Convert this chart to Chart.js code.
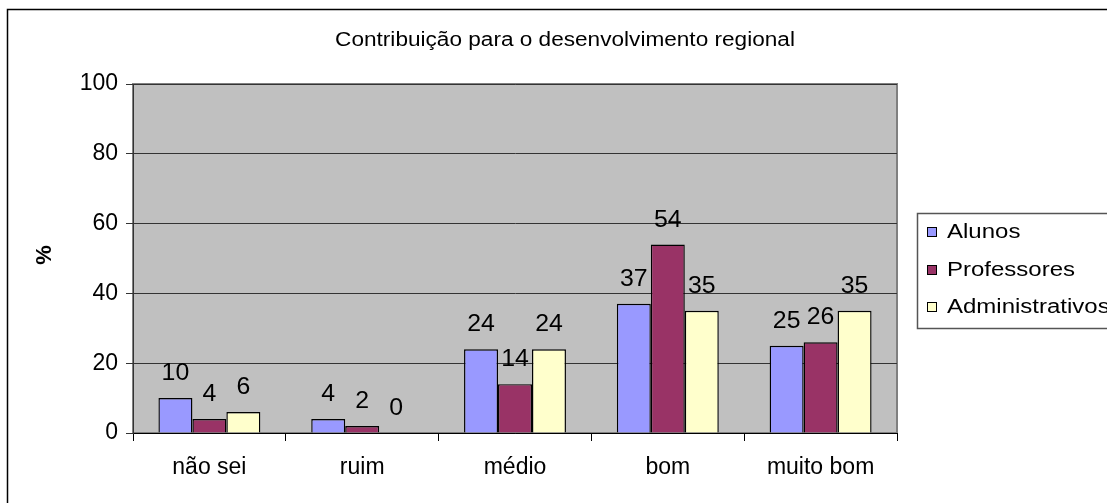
<!DOCTYPE html>
<html>
<head>
<meta charset="utf-8">
<script src="https://cdn.jsdelivr.net/npm/chart.js@4.4.1/dist/chart.umd.min.js"></script>
<style>
  body { margin: 0; background: #fff; }
  #wrap { width: 1107px; height: 503px; }
</style>
</head>
<body>
<div id="wrap"><canvas id="chart" width="1107" height="503"></canvas></div>
<script>
const title = 'Contribuição para o desenvolvimento regional';
const categories = ['não sei', 'ruim', 'médio', 'bom', 'muito bom'];
const seriesNames = ['Alunos', 'Professores', 'Administrativos'];
const alunos = [10, 4, 24, 37, 25];
const professores = [4, 2, 14, 54, 26];
const administrativos = [6, 0, 24, 35, 35];
const yTicks = [0, 20, 40, 60, 80, 100];
const yLabel = '%';

const colors = ['#9999FF', '#993366', '#FFFFCC'];
const FONT = '"Liberation Sans", Arial, sans-serif';

// draw text squeezed/stretched horizontally, like the Excel export
function wideText(ctx, text, x, y, size, sx, align, baseline) {
  ctx.save();
  ctx.font = size + 'px ' + FONT;
  ctx.textAlign = align;
  ctx.textBaseline = baseline;
  ctx.translate(x, y);
  ctx.scale(sx, 1);
  ctx.fillStyle = '#000';
  ctx.fillText(text, 0, 0);
  ctx.restore();
}

const excelLook = {
  id: 'excelLook',
  beforeDraw(chart) {
    const { ctx, chartArea: a } = chart;
    ctx.save();
    ctx.fillStyle = '#fff';
    ctx.fillRect(0, 0, chart.width, chart.height);
    // outer frame
    ctx.strokeStyle = '#000';
    ctx.lineWidth = 1.5;
    ctx.strokeRect(7.5, 9.5, 1200, 600);
    // plot area
    ctx.fillStyle = '#C0C0C0';
    ctx.fillRect(a.left, a.top, a.right - a.left, a.bottom - a.top);
    ctx.strokeStyle = '#808080';
    ctx.lineWidth = 2;
    ctx.strokeRect(a.left, a.top, a.right - a.left, a.bottom - a.top);
    ctx.restore();
  },
  afterDatasetsDraw(chart) {
    const { ctx } = chart;
    chart.data.datasets.forEach((ds, i) => {
      chart.getDatasetMeta(i).data.forEach((bar, j) => {
        wideText(ctx, String(ds.data[j]), bar.x, bar.y - 18, 23, 1.08, 'center', 'alphabetic');
      });
    });
  },
  afterDraw(chart) {
    const { ctx } = chart;
    wideText(ctx, title, 565, 40, 20, 1.13, 'center', 'middle');
    // y axis title
    ctx.save();
    ctx.translate(45, 255);
    ctx.rotate(-Math.PI / 2);
    ctx.font = 'bold 22px ' + FONT;
    ctx.textAlign = 'center';
    ctx.textBaseline = 'middle';
    ctx.fillStyle = '#000';
    ctx.fillText(yLabel, 0, 0);
    ctx.restore();
    // legend
    ctx.save();
    ctx.strokeStyle = '#555';
    ctx.lineWidth = 1.5;
    ctx.strokeRect(917.5, 213.5, 400, 115);
    const rows = [232, 270, 307];
    chart.data.datasets.forEach((ds, i) => {
      ctx.fillStyle = ds.backgroundColor;
      ctx.fillRect(927.5, rows[i] - 4.5, 9, 9);
      ctx.strokeStyle = '#000';
      ctx.lineWidth = 1;
      ctx.strokeRect(927.5, rows[i] - 4.5, 9, 9);
      wideText(ctx, ds.label, 947, rows[i], 20, 1.2, 'left', 'middle');
    });
    ctx.restore();
  }
};

new Chart(document.getElementById('chart'), {
  type: 'bar',
  data: {
    labels: categories,
    datasets: [alunos, professores, administrativos].map((d, i) => ({
      label: seriesNames[i],
      data: d,
      backgroundColor: colors[i],
      borderColor: '#000',
      borderWidth: 1.4,
      categoryPercentage: 0.667,
      barPercentage: 1
    }))
  },
  options: {
    responsive: false,
    animation: false,
    layout: { padding: { left: 0, top: 84, right: 210, bottom: 0 } },
    plugins: { legend: { display: false }, title: { display: false }, tooltip: { enabled: false } },
    scales: {
      x: {
        afterFit(s) { s.height = 70; },
        grid: { display: true, drawOnChartArea: false, tickLength: 8, color: '#000', offset: true },
        border: { color: '#000', width: 1 },
        ticks: { color: '#000', font: { family: FONT, size: 23 }, padding: 13 }
      },
      y: {
        min: 0,
        max: 100,
        afterFit(s) { s.width = 133; },
        afterBuildTicks(s) { s.ticks = yTicks.map(v => ({ value: v })); },
        grid: { color: '#333', tickLength: 7, tickColor: '#333' },
        border: { color: '#333', width: 1 },
        ticks: { color: '#000', font: { family: FONT, size: 23 }, padding: 8 }
      }
    }
  },
  plugins: [excelLook]
});
</script>
</body>
</html>
